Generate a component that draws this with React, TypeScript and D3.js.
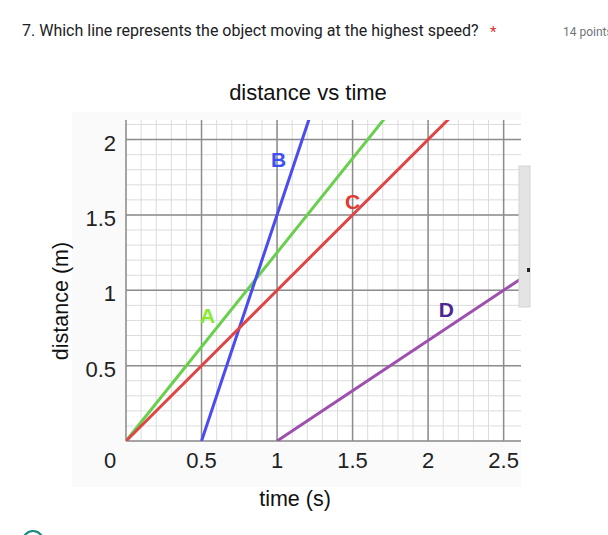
import React from "react";
import * as d3 from "d3";

const questionText = "7. Which line represents the object moving at the highest speed?";
const pointsText = "14 points";
const chartTitle = "distance vs time";
const xLabel = "time (s)";
const yLabel = "distance (m)";

const xDomain = [0, 2.615];
const yDomain = [0, 2.13];
const xTicks = [0, 0.5, 1, 1.5, 2, 2.5];
const xTickLabels = ["0", "0.5", "1", "1.5", "2", "2.5"];
const yTicks = [0.5, 1, 1.5, 2];
const yTickLabels = ["0.5", "1", "1.5", "2"];

const seriesNames = ["A", "B", "C", "D"];
// [time, distance] pairs per line
const seriesA: [number, number][] = [[0, 0], [2, 2.5]];
const seriesB: [number, number][] = [[0.5, 0], [1.3, 2.4]];
const seriesC: [number, number][] = [[0, 0], [2.5, 2.5]];
const seriesD: [number, number][] = [[1, 0], [2.8, 1.2]];
const labelPosA: [number, number] = [0.54, 0.78];
const labelPosB: [number, number] = [1.01, 1.82];
const labelPosC: [number, number] = [1.5, 1.54];
const labelPosD: [number, number] = [2.12, 0.82];

const lineColors = ["#68d04c", "#4a4cf0", "#e04545", "#9e4fae"];
const labelColors = ["#86ec2a", "#3f4ff0", "#e03a32", "#4a2890"];

export default function App() {
  const x = d3.scaleLinear().domain(xDomain).range([126, 521]);
  const y = d3.scaleLinear().domain(yDomain).range([441, 120]);
  const line = d3
    .line<[number, number]>()
    .x((d) => x(d[0]))
    .y((d) => y(d[1]));

  const minorX = d3.range(0, 26).map((i) => i / 10);
  const minorY = d3.range(0, 22).map((i) => i / 10);
  const majorX = [0, 0.5, 1, 1.5, 2, 2.5];
  const majorY = [0, 0.5, 1, 1.5, 2];

  const series = [seriesA, seriesB, seriesC, seriesD];
  const labelPos = [labelPosA, labelPosB, labelPosC, labelPosD];
  const chartFont = "'Liberation Sans', Arial, sans-serif";

  const [x0, x1] = x.range();
  const [y0, y1] = y.range();

  return (
    <svg
      width={608}
      height={535}
      style={{ position: "absolute", left: 0, top: 0, background: "#fff" }}
    >
      <text x={22} y={36} fontFamily="Roboto, sans-serif" fontSize={16} fill="#202124">
        {questionText}
      </text>
      <text x={490} y={37} fontFamily="Roboto, sans-serif" fontSize={15} fill="#d93025">
        *
      </text>
      <text x={563} y={36} fontFamily="Roboto, sans-serif" fontSize={12} fill="#70757a">
        {pointsText}
      </text>

      <rect x={72} y={112} width={449} height={375} fill="#fafafa" />
      <rect x={x0} y={y1} width={x1 - x0} height={y0 - y1} fill="#ffffff" />

      <defs>
        <clipPath id="plotclip">
          <rect x={x0} y={y1} width={x1 - x0} height={y0 - y1} />
        </clipPath>
      </defs>

      {minorX.map((v) => (
        <line key={"mx" + v} x1={x(v)} x2={x(v)} y1={y0} y2={y1} stroke="#dcdcdc" strokeWidth={1} />
      ))}
      {minorY.map((v) => (
        <line key={"my" + v} x1={x0} x2={x1} y1={y(v)} y2={y(v)} stroke="#dcdcdc" strokeWidth={1} />
      ))}
      {majorX.map((v) => (
        <line key={"Mx" + v} x1={x(v)} x2={x(v)} y1={y0} y2={y1} stroke="#8c8c8c" strokeWidth={1.5} />
      ))}
      {majorY.map((v) => (
        <line key={"My" + v} x1={x0} x2={x1} y1={y(v)} y2={y(v)} stroke="#8c8c8c" strokeWidth={1.5} />
      ))}

      <g clipPath="url(#plotclip)">
        {series.map((s, i) => (
          <path key={"s" + i} d={line(s) || ""} fill="none" stroke={lineColors[i]} strokeWidth={3} />
        ))}
      </g>

      {seriesNames.map((n, i) => (
        <text
          key={"l" + n}
          x={x(labelPos[i][0])}
          y={y(labelPos[i][1])}
          textAnchor="middle"
          fontFamily={chartFont}
          fontWeight="bold"
          fontSize={21}
          fill={labelColors[i]}
        >
          {n}
        </text>
      ))}

      <text x={308} y={100} textAnchor="middle" fontFamily={chartFont} fontSize={22} fill="#111">
        {chartTitle}
      </text>

      {yTicks.map((v, i) => (
        <text
          key={"yt" + v}
          x={116}
          y={y(v) + 11}
          textAnchor="end"
          fontFamily={chartFont}
          fontSize={22}
          fill="#222"
        >
          {yTickLabels[i]}
        </text>
      ))}
      {xTicks.map((v, i) => (
        <text
          key={"xt" + v}
          x={x(v) + (v === 0 ? -16 : 0)}
          y={468}
          textAnchor="middle"
          fontFamily={chartFont}
          fontSize={22}
          fill="#222"
        >
          {xTickLabels[i]}
        </text>
      ))}

      <text x={295} y={506} textAnchor="middle" fontFamily={chartFont} fontSize={21.5} fill="#111">
        {xLabel}
      </text>
      <text
        transform="translate(68,301) rotate(-90)"
        textAnchor="middle"
        fontFamily={chartFont}
        fontSize={21.5}
        fill="#111"
      >
        {yLabel}
      </text>

      <rect x={519} y={166} width={11} height={141} fill="#e4e4e4" stroke="#d4d4d4" strokeWidth={1} />
      <rect x={527} y={268} width={3} height={4} fill="#222" />

      <circle cx={33} cy={541} r={10} fill="none" stroke="#138a7c" strokeWidth={2} />
    </svg>
  );
}
